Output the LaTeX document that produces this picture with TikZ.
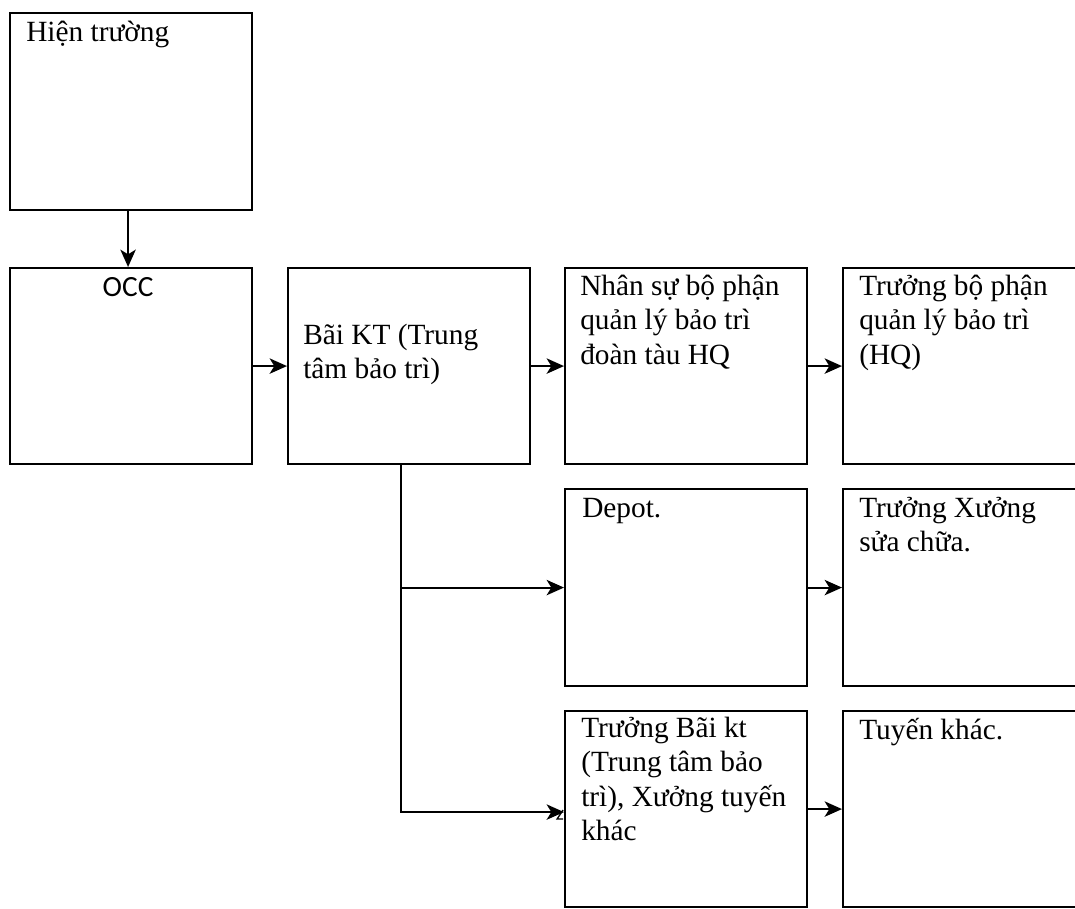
\documentclass[tikz,border=0pt]{standalone}
\usepackage{fontspec}
\setmainfont{Liberation Serif}
\newfontfamily\occfont{Carlito}
\usetikzlibrary{arrows.meta}
\begin{document}
\begin{tikzpicture}[x=0.75pt,y=-0.75pt,
  boxnode/.style={draw, line width=1.6pt, anchor=north west, inner sep=0pt,
    minimum width=181.5pt, minimum height=147pt},
  txt/.style={anchor=north west, inner sep=0pt, align=left,
    font=\fontsize{22}{25.8}\selectfont},
  arr/.style={line width=1.6pt, -{Stealth[length=13pt, width=11.5pt, inset=3.5pt]}},
  link/.style={line width=1.6pt}]
\clip (0,0) rectangle (1075,908);
\fill[white] (0,0) rectangle (1075,908);

% boxes
\node[boxnode, minimum height=147.75pt] (ht) at (9,12) {};
\node[boxnode] (occ) at (9,267) {};
\node[boxnode] (bai) at (287,267) {};
\node[boxnode] (ns)  at (564,267) {};
\node[boxnode] (tbp) at (842,267) {};
\node[boxnode, minimum height=147.75pt] (depot) at (564,488) {};
\node[boxnode, minimum height=147.75pt] (txsc)  at (842,488) {};
\node[boxnode] (tbk) at (564,710) {};
\node[boxnode] (tk)  at (842,710) {};

% texts
\node[txt] (htT) at ([shift={(17,5)}]ht.north west) {\strut Hiện trường};
\node[anchor=base, inner sep=0pt, font=\occfont\fontsize{22}{26}\selectfont] (occT)
  at ([shift={(-3,29)}]occ.north) {OCC};
\node[txt] (baiT) at ([shift={(16,53)}]bai.north west) {\strut Bãi KT (Trung\\tâm bảo trì)};
\node[txt] (nsT) at ([shift={(16,4)}]ns.north west) {\strut Nhân sự bộ phận\\quản lý bảo trì\\đoàn tàu HQ};
\node[txt] (tbpT) at ([shift={(17,4)}]tbp.north west) {\strut Trưởng bộ phận\\quản lý bảo trì\\(HQ)};
\node[txt] (depotT) at ([shift={(18,5)}]depot.north west) {\strut Depot.};
\node[txt] (txscT) at ([shift={(17,5)}]txsc.north west) {\strut Trưởng Xưởng\\sửa chữa.};
\node[txt] (tbkT) at ([shift={(17,3)}]tbk.north west) {\strut Trưởng Bãi kt\\(Trung tâm bảo\\trì), Xưởng tuyến\\khác};
\node[txt] (tkT) at ([shift={(17,5)}]tk.north west) {\strut Tuyến khác.};

% connectors
\draw[arr] ([xshift=-2.25pt]ht.south) -- ([xshift=-2.25pt]occ.north);
\draw[arr] (occ.east) -- (bai.west);
\draw[arr] (bai.east) -- (ns.west);
\draw[arr] (ns.east) -- (tbp.west);
\draw[arr] (depot.east) -- (txsc.west);
\draw[arr] (tbk.east) -- (tk.west);
\path (bai.south west) ++(114,0) coordinate (drop);
\draw[arr] (drop) |- (depot.west);
\draw[arr] (drop) |- ([yshift=-2.25pt]tbk.west);
\draw[link, line width=1pt] ([shift={(-1,1)}]tbk.west) -- ++(-6,9) -- ++(6,0);
\end{tikzpicture}
\end{document}
